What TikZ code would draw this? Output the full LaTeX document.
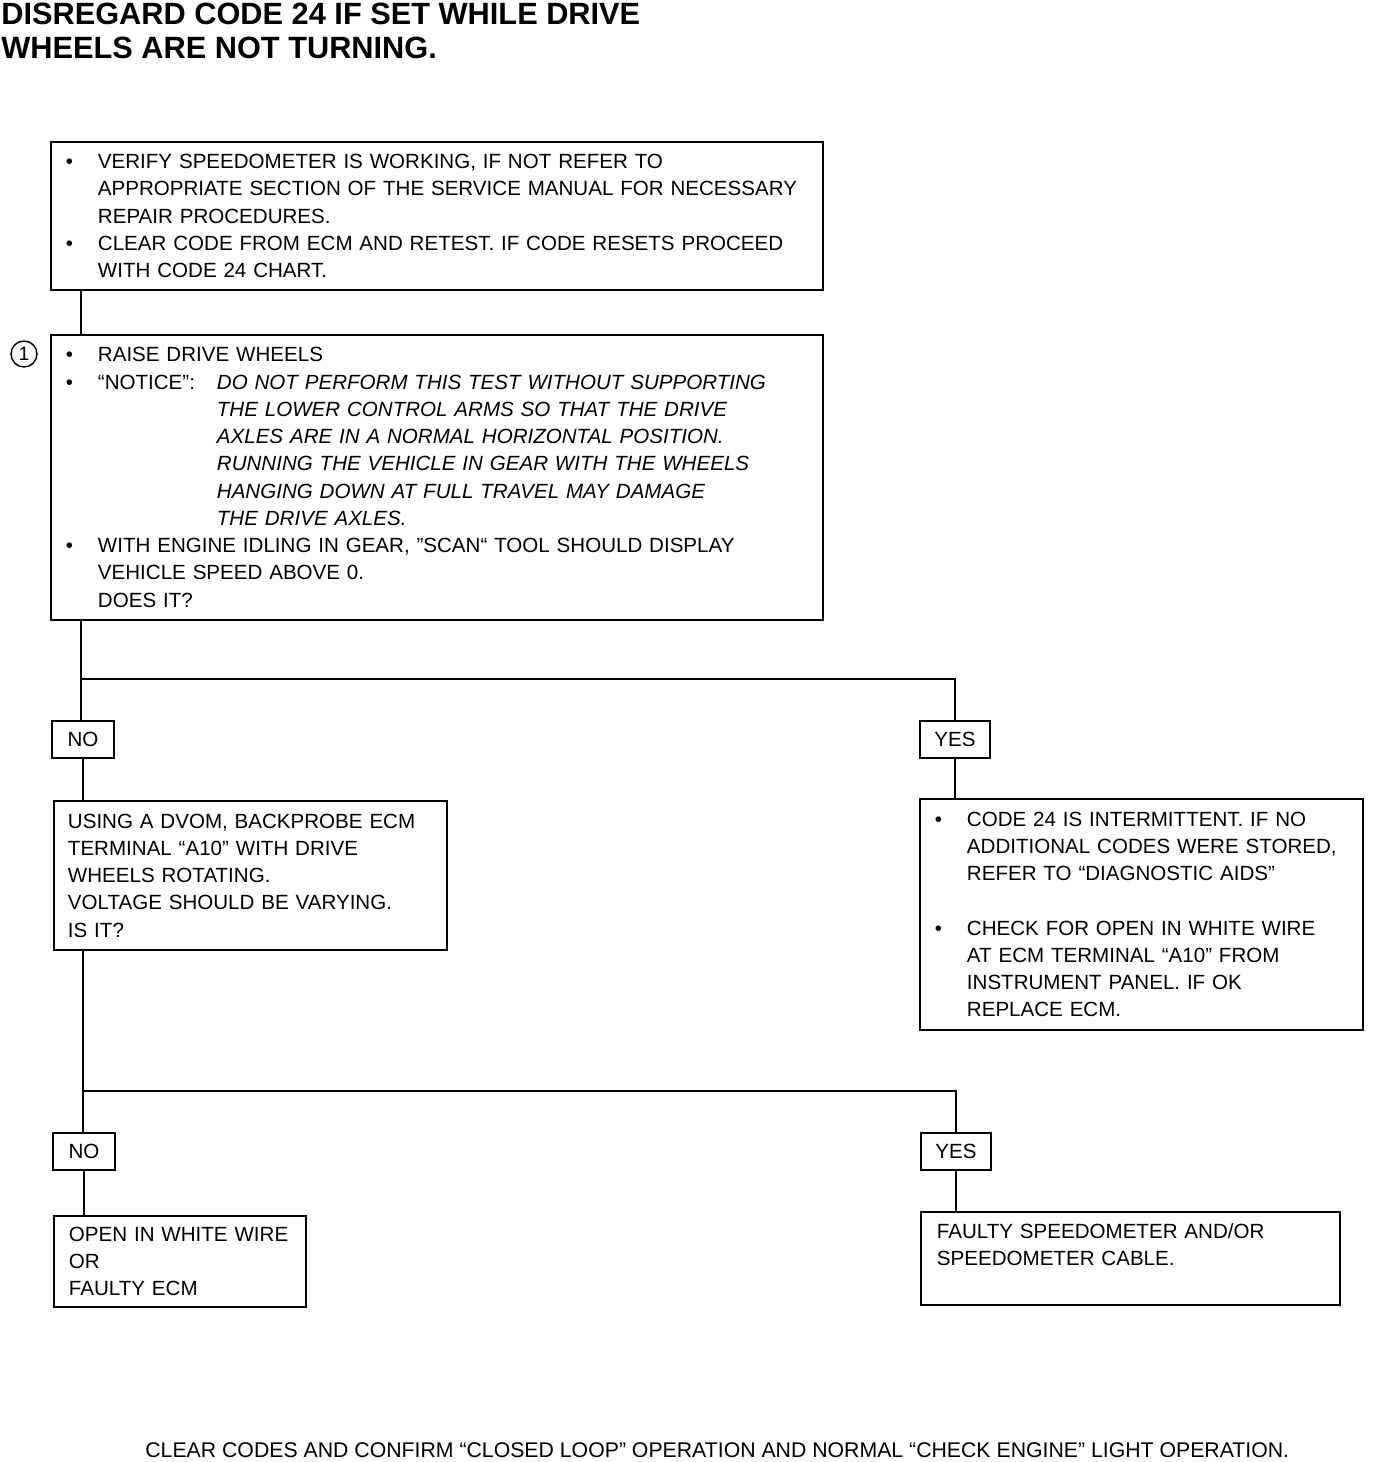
\documentclass[tikz,border=0pt]{standalone}
\usepackage{fontspec}
\setmainfont{Liberation Sans}
\usetikzlibrary{positioning, calc}

\newcommand{\bul}{\makebox[0.64cm][l]{\textbullet}}
\newcommand{\ind}{\hspace*{0.64cm}}

\begin{document}
\begin{tikzpicture}[
  x=0.02cm, y=-0.02cm,
  chartbox/.style={rectangle, draw, line width=1.1pt, anchor=north west, align=left,
                   inner xsep=0.3cm, font=\fontsize{11.7}{15.5}\selectfont},
  answer/.style={rectangle, draw, line width=1.1pt, anchor=north west,
                 minimum height=0.74cm, inner sep=0pt, font=\fontsize{11.7}{15.5}\selectfont},
  wire/.style={line width=1.1pt}
]
  \useasboundingbox (0,0) rectangle (1376,1462);

  \node[anchor=north west, inner sep=0pt, align=left,
        font=\fontsize{17.5}{19}\selectfont\bfseries] (title) at (1,3)
    {DISREGARD CODE 24 IF SET WHILE DRIVE\\WHEELS ARE NOT TURNING.};

  \node[chartbox, text width=14.84cm, minimum height=2.96cm] (verify) at (50,141)
    {\bul VERIFY SPEEDOMETER IS WORKING, IF NOT REFER TO\\
     \ind\mbox{APPROPRIATE SECTION OF THE SERVICE MANUAL FOR NECESSARY}\\
     \ind REPAIR PROCEDURES.\\
     \bul\mbox{CLEAR CODE FROM ECM AND RETEST. IF CODE RESETS PROCEED}\\
     \ind WITH CODE 24 CHART.};

  \node[chartbox, text width=14.84cm, minimum height=5.7cm] (raise) at (50,334)
    {\bul RAISE DRIVE WHEELS\\
     \bul\makebox[2.38cm][l]{“NOTICE”:}\mbox{\textit{DO NOT PERFORM THIS TEST WITHOUT SUPPORTING}}\\
     \hspace*{3.02cm}\textit{THE LOWER CONTROL ARMS SO THAT THE DRIVE}\\
     \hspace*{3.02cm}\textit{AXLES ARE IN A NORMAL HORIZONTAL POSITION.}\\
     \hspace*{3.02cm}\mbox{\textit{RUNNING THE VEHICLE IN GEAR WITH THE WHEELS}}\\
     \hspace*{3.02cm}\textit{HANGING DOWN AT FULL TRAVEL MAY DAMAGE}\\
     \hspace*{3.02cm}\textit{THE DRIVE AXLES.}\\
     \bul\mbox{WITH ENGINE IDLING IN GEAR, ”SCAN“ TOOL SHOULD DISPLAY}\\
     \ind VEHICLE SPEED ABOVE 0.\\
     \ind DOES IT?};

  \node[circle, draw, line width=0.8pt, minimum size=0.52cm, inner sep=0pt,
        font=\fontsize{11}{12}\selectfont] (step1) at (24,354) {1};

  \node[answer, minimum width=1.24cm] (no1) at (51,720) {NO};
  \node[answer, minimum width=1.4cm] (yes1) at (919,720) {YES};

  \node[chartbox, inner xsep=0.28cm, text width=7.3cm, minimum height=2.98cm] (dvom) at (53,800)
    {\mbox{USING A DVOM, BACKPROBE ECM}\\
     TERMINAL “A10” WITH DRIVE\\
     WHEELS ROTATING.\\
     VOLTAGE SHOULD BE VARYING.\\
     IS IT?};

  \node[chartbox, text width=8.26cm, minimum height=4.62cm] (intermit) at (919,798)
    {\bul CODE 24 IS INTERMITTENT. IF NO\\
     \ind\mbox{ADDITIONAL CODES WERE STORED,}\\
     \ind REFER TO “DIAGNOSTIC AIDS”\\
     ~\\
     \bul CHECK FOR OPEN IN WHITE WIRE\\
     \ind AT ECM TERMINAL “A10” FROM\\
     \ind INSTRUMENT PANEL. IF OK\\
     \ind REPLACE ECM.};

  \node[answer, minimum width=1.24cm] (no2) at (52,1132) {NO};
  \node[answer, minimum width=1.4cm] (yes2) at (920,1132) {YES};

  \node[chartbox, text width=4.44cm, minimum height=1.82cm] (openwire) at (53,1215)
    {\mbox{OPEN IN WHITE WIRE}\\
     OR\\
     FAULTY ECM};

  \node[chartbox, inner xsep=0.32cm, text width=7.74cm, minimum height=1.86cm] (speedo) at (920,1211)
    {FAULTY SPEEDOMETER AND/OR\\
     SPEEDOMETER CABLE.\\
     ~};

  \node[anchor=base west, inner sep=0pt, font=\fontsize{12.1}{14}\selectfont] (footer) at (145,1457)
    {CLEAR CODES AND CONFIRM “CLOSED LOOP” OPERATION AND NORMAL “CHECK ENGINE” LIGHT OPERATION.};

  \coordinate (fork1) at (81,679);
  \coordinate (fork2) at (83,1091);

  \draw[wire] (verify.south -| fork1) -- (raise.north -| fork1);
  \draw[wire] (raise.south -| fork1) -- (no1.north -| fork1);
  \draw[wire] (fork1) -| (yes1.north);
  \draw[wire] (no1.south) -- (dvom.north -| no1.south);
  \draw[wire] (yes1.south) -- (intermit.north -| yes1.south);
  \draw[wire] (dvom.south -| fork2) -- (no2.north -| fork2);
  \draw[wire] (fork2) -| (yes2.north);
  \draw[wire] (no2.south) -- (openwire.north -| no2.south);
  \draw[wire] (yes2.south) -- (speedo.north -| yes2.south);
\end{tikzpicture}
\end{document}
